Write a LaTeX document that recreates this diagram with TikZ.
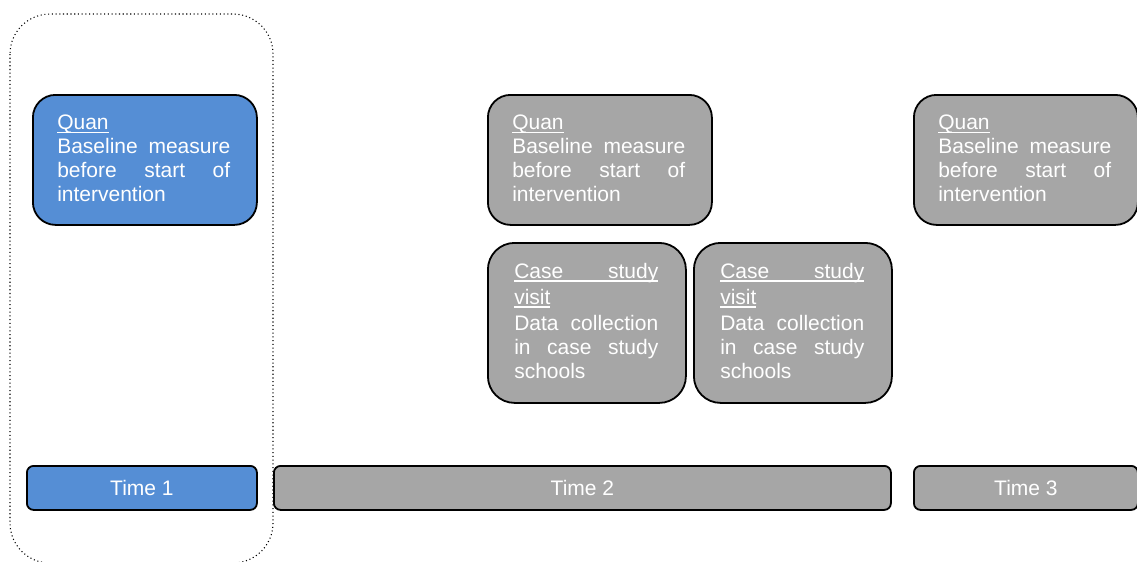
\documentclass[tikz,border=0pt]{standalone}
\usepackage{fontspec}
\setmainfont{Liberation Sans}
\usetikzlibrary{positioning}
\definecolor{quanblue}{HTML}{558ED5}
\definecolor{phasegrey}{HTML}{A6A6A6}
\newcommand{\boxfont}{\fontsize{15.75}{18}\selectfont\hyphenpenalty=10000\relax}
\newcommand{\boxhead}[1]{\leavevmode\setbox0=\hbox{#1}\rlap{\rule[-2.4pt]{\wd0}{0.9pt}}\box0}

\begin{document}
\begin{tikzpicture}[x=0.75pt, y=-0.75pt,
  every node/.style={font=\boxfont, text=white},
  box/.style={draw=black, line width=1.35pt, rounded corners=17pt, anchor=north west, inner sep=0pt},
  bluebox/.style={box, fill=quanblue},
  greybox/.style={box, fill=phasegrey},
  quanbox/.style={minimum width=168pt, minimum height=97.5pt},
  casebox/.style={minimum width=148.5pt, minimum height=120pt, rounded corners=20pt},
  timebar/.style={minimum height=33pt, rounded corners=5pt},
  boxtext/.style={anchor=north west, inner sep=0pt, align=justify}]

  \useasboundingbox (0,0) rectangle (1137,561);

  % --- Marco punteado de la fase 1 ---
  \draw[dotted, line width=0.8pt, rounded corners=30pt] (10,14) rectangle (273,563);

  % --- Cajas Quan ---
  \node[bluebox, quanbox] (quan1) at (32,94) {};
  \node[greybox, quanbox] (quan2) at (487,94) {};
  \node[greybox, quanbox] (quan3) at (913,94) {};

  \foreach \q in {quan1,quan2,quan3}{
    \node[boxtext, text width=129.75pt] (\q text) at ([shift={(25,21)}]\q.north west)
      {\boxhead{Quan}\endgraf Baseline measure before start of intervention};
  }

  % --- Visitas de caso ---
  \node[greybox, casebox] (case1) at (487,242) {};
  \node[greybox, casebox] (case2) at (693,242) {};

  \foreach \c in {case1,case2}{
    \node[boxtext, text width=108pt] (\c text) at ([shift={(27,21)}]\c.north west)
      {\boxhead{\makebox[108pt][s]{Case study}}\endgraf\vspace{1.5pt}\boxhead{visit}\endgraf\vspace{1.2pt}
       Data collection in case study schools};
  }

  % --- Barras de tiempo ---
  \node[bluebox, timebar, minimum width=172.5pt] (time1) at (26,465) {Time 1};
  \node[greybox, timebar, minimum width=462.75pt] (time2) at (273,465) {Time 2};
  \node[greybox, timebar, minimum width=168pt] (time3) at (913,465) {Time 3};

\end{tikzpicture}
\end{document}
